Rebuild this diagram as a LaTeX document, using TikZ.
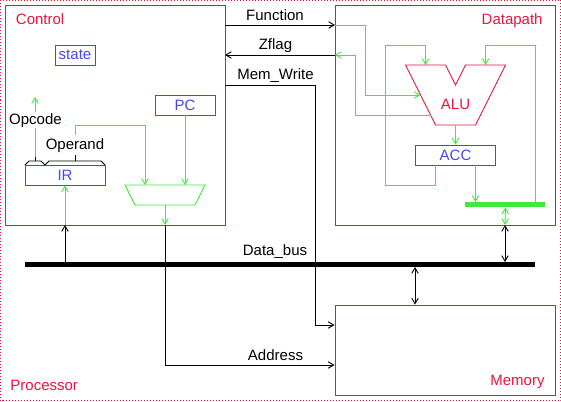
\documentclass[tikz,border=0pt]{standalone}
\usepackage{fontspec}
\setmainfont{Liberation Sans}
\usetikzlibrary{arrows.meta}
\definecolor{xred}{RGB}{230,22,62}
\definecolor{xblue}{RGB}{72,72,232}
\definecolor{xgreen}{RGB}{64,232,64}
\begin{document}
\begin{tikzpicture}[x=1pt,y=-1pt,
  line width=0.9pt,
  >={Straight Barb[length=5.5pt,width=6.5pt]},
  txt/.style={inner sep=0pt,font=\fontsize{15}{18}\selectfont},
  redtxt/.style={txt,text=xred},
  bluetxt/.style={txt,text=xblue},
  redbox/.style={draw=xred,line width=0.9pt,inner sep=0pt,rectangle},
  bluebox/.style={draw=xblue,line width=0.9pt,inner sep=0pt,rectangle,text=xblue,font=\fontsize{15}{18}\selectfont},
  gline/.style={draw=xgreen,line width=0.9pt},
  bline/.style={draw=black,line width=0.9pt},
]
\useasboundingbox (0,0) rectangle (561,401);
\fill[white] (0,0) rectangle (561,401);
% outer processor border
\draw[xred,line width=0.9pt,dash pattern=on 1pt off 2pt] (0.5,0.5) rectangle (560.5,400.5);

% main boxes
\node[redbox,minimum width=220pt,minimum height=220pt] (control) at (115,115) {};
\node[redbox,minimum width=220pt,minimum height=220pt] (datapath) at (445,115) {};
\node[redbox,minimum width=220pt,minimum height=90pt] (memory) at (445,350) {};

% titles
\node[redtxt,anchor=base west] (tcontrol) at (15.5,25) {Control};
\node[redtxt,anchor=base east] (tdatapath) at (543,25) {Datapath};
\node[redtxt,anchor=base west] (tprocessor) at (10,390) {Processor};
\node[redtxt,anchor=base east] (tmemory) at (545,385) {Memory};

% control internals
\node[bluebox,minimum width=40pt,minimum height=20pt] (state) at (75,55) {state};
\node[bluebox,minimum width=60pt,minimum height=20pt] (pc) at (185,105) {PC};
\node[bluebox,minimum width=80pt,minimum height=20pt] (ir) at (65,175) {IR};

% mux
\coordinate (muxtl) at (125,185);
\coordinate (muxtr) at (205,185);
\coordinate (muxbr) at (195,205);
\coordinate (muxbl) at (135,205);
\draw[gline] (muxtl) -- (muxtr) -- (muxbr) -- (muxbl) -- cycle;
\coordinate (muxa) at (145,185);
\coordinate (muxb) at (185,185);
\coordinate (muxout) at (165,205);

% braces over IR
\draw[bline] (25,165) -- (29,161) -- (41,161) -- (45,165) -- (49,161) -- (101,161) -- (105,165);
\draw[bline] (35,161) -- (35,157);
\draw[bline] (75,161) -- (75,155);

% opcode
\coordinate (opbr) at (35,157);
\coordinate (optop) at (35,97);
\draw[gline,->] (opbr) -- (optop);
\node[txt,fill=white,inner sep=1pt,anchor=base] (opcode) at (35.5,124) {Opcode};

% operand
\node[txt,anchor=base] (operand) at (75,149) {Operand};
\coordinate (operout) at (75,135);
\draw[gline,->] (operout) -- (75,125) -- (145,125) -- (muxa);
\draw[gline,->] (pc.south) -- (muxb);

% address path
\coordinate (ctlbotaddr) at (165,225);
\draw[gline,->] (muxout) -- (ctlbotaddr);
\draw[bline,->] (ctlbotaddr) -- (165,365) -- (memory.west |- 0,365);
\node[txt,anchor=base] (laddress) at (275.5,360) {Address};

% data bus
\coordinate (busl) at (25,264.5);
\coordinate (busr) at (535,264.5);
\draw[black,line width=5pt] (busl) -- (busr);
\node[txt,anchor=base] (ldatabus) at (275,255) {Data\_bus};

% IR input
\coordinate (irbus) at (65,262);
\coordinate (irctl) at (65,225);
\draw[bline,->] (irbus) -- (irctl);
\draw[gline,->] (irctl) -- (ir.south);

% memory to bus
\coordinate (membus) at (415,267);
\draw[bline,<->] (membus) -- (memory.north -| membus);

% datapath to bus
\coordinate (dpbus) at (505,262);
\coordinate (dpbot) at (505,225);
\draw[bline,<->] (dpbus) -- (dpbot);

% Function
\coordinate (fnl) at (225,25);
\coordinate (fnr) at (335,25);
\draw[bline,->] (fnl) -- (fnr);
\node[txt,anchor=base] (lfunction) at (275,20.5) {Function};

% Zflag
\coordinate (zfl) at (225,55);
\coordinate (zfr) at (335,55);
\draw[bline,->] (zfr) -- (zfl);
\node[txt,anchor=base] (lzflag) at (275.5,50) {Zflag};

% Mem_Write
\coordinate (mwl) at (225,85);
\draw[bline,->] (mwl) -- (315,85) -- (315,325) -- (memory.west |- 0,325);
\node[txt,anchor=base] (lmemwrite) at (275.5,80) {Mem\_Write};

% ALU
\coordinate (alu1) at (405.5,65);
\coordinate (alu2) at (445.5,65);
\coordinate (alu3) at (455.5,85);
\coordinate (alu4) at (465.5,65);
\coordinate (alu5) at (505.5,65);
\coordinate (alu6) at (475.5,125);
\coordinate (alu7) at (435.5,125);
\draw[xred,line width=0.9pt] (alu1) -- (alu2) -- (alu3) -- (alu4) -- (alu5) -- (alu6) -- (alu7) -- cycle;
\node[redtxt,anchor=base] (alu) at (455.5,110) {ALU};
\coordinate (aluina) at (425.5,65);
\coordinate (aluinb) at (485.5,65);
\coordinate (aluout) at (455.5,125);
\coordinate (alufn) at (420.5,95);
\coordinate (aluz) at (430.5,115);

\node[bluebox,minimum width=80pt,minimum height=20pt] (acc) at (455.5,155) {ACC};

% green bar
\coordinate (barl) at (465,204.5);
\coordinate (barr) at (545,204.5);
\draw[xgreen,line width=4.5pt] (barl) -- (barr);

% datapath green wiring
\draw[gline,->] (fnr) -- (365.5,25) -- (365.5,95) -- (alufn);
\draw[gline,->] (aluz) -- (355.5,115) -- (355.5,55) -- (zfr);
\draw[gline,->] (aluout) -- (acc.north);
\draw[gline,->] (acc.south -| 475.5,0) -- (475.5,202);
\draw[gline,->] (acc.south -| 435.5,0) -- (435.5,185) -- (385.5,185) -- (385.5,45) -- (425.5,45) -- (aluina);
\draw[gline,->] (535.5,202) -- (535.5,45) -- (485.5,45) -- (aluinb);
\draw[gline,<->] (505.5,207.5) -- (dpbot);
\end{tikzpicture}
\end{document}
